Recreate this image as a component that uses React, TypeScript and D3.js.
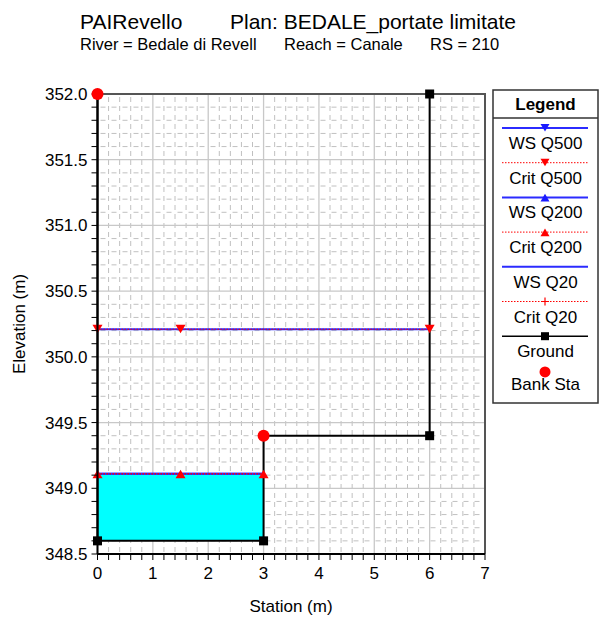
import React from "react";
import * as d3 from "d3";

// Cross-section geometry
const groundStation = [0, 0, 3, 3, 6, 6];
const groundElev = [352.0, 348.6, 348.6, 349.4, 349.4, 352.0];
const groundMarkerIdx = [1, 2, 4, 5];

const bankStation = [0, 3];
const bankElev = [352.0, 349.4];

// Water surfaces per profile
const wsQ500Station = [0, 1.5, 6];
const wsQ500Elev = 350.21;
const critQ500Elev = 350.21;
const wsQ200Station = [0, 1.5, 3];
const wsQ200Elev = 349.11;
const critQ200Elev = 349.11;
const wsQ20Station = [0, 1.5, 3];
const wsQ20Elev = 349.11;
const critQ20Elev = 349.11;

const xTicks = [0, 1, 2, 3, 4, 5, 6, 7];
const yTicks = [348.5, 349.0, 349.5, 350.0, 350.5, 351.0, 351.5, 352.0];

const legendItems = [
  "WS Q500",
  "Crit Q500",
  "WS Q200",
  "Crit Q200",
  "WS Q20",
  "Crit Q20",
  "Ground",
  "Bank Sta",
];

const W = 602;
const H = 620;
const FONT = "'Liberation Sans', Arial, sans-serif";
const BLUE = "#2b2bff";
const RED = "#ff0000";

const x = d3.scaleLinear().domain([0, 7]).range([97.5, 485]);
const y = d3.scaleLinear().domain([348.5, 352]).range([554, 94]);

const tri = (cx: number, cy: number, down: boolean, s = 5) =>
  down
    ? `M${cx - s},${cy - s * 0.9}L${cx + s},${cy - s * 0.9}L${cx},${cy + s * 0.8}Z`
    : `M${cx - s},${cy + s * 0.9}L${cx + s},${cy + s * 0.9}L${cx},${cy - s * 0.8}Z`;

export default function App() {
  const line = d3
    .line<[number, number]>()
    .x((d) => x(d[0]))
    .y((d) => y(d[1]));

  const groundPts: [number, number][] = groundStation.map((s, i) => [s, groundElev[i]]);

  const minorX = d3.range(0, 7.0001, 0.2).filter((v) => Math.abs(v - Math.round(v)) > 1e-6);
  const minorY = d3
    .range(348.5, 352.0001, 0.1)
    .filter((v) => Math.abs(v * 2 - Math.round(v * 2)) > 1e-6);
  const xMinorTicks = d3.range(0, 7.0001, 0.2);
  const yMinorTicks = d3.range(348.5, 352.0001, 0.1);

  // Wetted area under WS Q200 within the channel bottom
  const fillArea = d3
    .area<number>()
    .x((s) => x(s))
    .y0(y(groundElev[1]))
    .y1(y(wsQ200Elev));

  const legX0 = 493;
  const legX1 = 598;
  const legLineX0 = 502;
  const legLineX1 = 588;
  const legMid = 545;
  const rowY = (i: number) => 128 + i * 34.7;

  return (
    <svg
      width={W}
      height={H}
      style={{ position: "absolute", left: 0, top: 0, background: "#fff" }}
      fontFamily={FONT}
    >
      {/* Titles */}
      <text x={80} y={29} fontSize={21} fill="#000">
        PAIRevello
      </text>
      <text x={230} y={29} fontSize={21} fill="#000">
        Plan: BEDALE_portate limitate
      </text>
      <text x={80} y={50} fontSize={16.5} fill="#000">
        River = Bedale di Revell
      </text>
      <text x={284} y={50} fontSize={16.5} fill="#000">
        Reach = Canale
      </text>
      <text x={430} y={50} fontSize={16.5} fill="#000">
        RS = 210
      </text>

      {/* Grid */}
      <g>
        {minorX.map((v) => (
          <line
            key={"mx" + v}
            x1={x(v)}
            x2={x(v)}
            y1={y(352)}
            y2={y(348.5)}
            stroke="#c0c0c0"
            strokeWidth={1}
            strokeDasharray="5,4"
            strokeDashoffset={-3}
          />
        ))}
        {minorY.map((v) => (
          <line
            key={"my" + v}
            x1={x(0)}
            x2={x(7)}
            y1={y(v)}
            y2={y(v)}
            stroke="#c0c0c0"
            strokeWidth={1}
            strokeDasharray="5,6"
            strokeDashoffset={-3}
          />
        ))}
        {xTicks.map((v) => (
          <line
            key={"gx" + v}
            x1={x(v)}
            x2={x(v)}
            y1={y(352)}
            y2={y(348.5)}
            stroke="#c8c8c8"
            strokeWidth={1.3}
          />
        ))}
        {yTicks.map((v) => (
          <line
            key={"gy" + v}
            x1={x(0)}
            x2={x(7)}
            y1={y(v)}
            y2={y(v)}
            stroke="#c8c8c8"
            strokeWidth={1.3}
          />
        ))}
      </g>

      {/* Frame top/right */}
      <path
        d={`M${x(0)},${y(352)}H${x(7)}V${y(348.5)}`}
        fill="none"
        stroke="#555"
        strokeWidth={2}
      />

      {/* Water fill */}
      <path d={fillArea([0, 3]) || ""} fill="#00ffff" />

      {/* Water surfaces */}
      <path
        d={line(wsQ20Station.map((s) => [s, wsQ20Elev]) as [number, number][]) || ""}
        fill="none"
        stroke={BLUE}
        strokeWidth={2}
      />
      <path
        d={line(wsQ200Station.map((s) => [s, wsQ200Elev]) as [number, number][]) || ""}
        fill="none"
        stroke={BLUE}
        strokeWidth={2}
      />
      <path
        d={line(wsQ500Station.map((s) => [s, wsQ500Elev]) as [number, number][]) || ""}
        fill="none"
        stroke={BLUE}
        strokeWidth={2}
      />
      <path
        d={line(wsQ500Station.map((s) => [s, critQ500Elev]) as [number, number][]) || ""}
        fill="none"
        stroke={RED}
        strokeWidth={1}
        strokeDasharray="1.5,1.5"
      />
      <path
        d={line(wsQ200Station.map((s) => [s, critQ200Elev]) as [number, number][]) || ""}
        fill="none"
        stroke={RED}
        strokeWidth={1}
        strokeDasharray="1.5,1.5"
      />
      <path
        d={line(wsQ20Station.map((s) => [s, critQ20Elev]) as [number, number][]) || ""}
        fill="none"
        stroke={RED}
        strokeWidth={1}
        strokeDasharray="1.5,1.5"
      />

      {/* Ground */}
      <path d={line(groundPts) || ""} fill="none" stroke="#000" strokeWidth={2} />

      {/* Profile markers */}
      {wsQ500Station.map((s) => (
        <path key={"m500" + s} d={tri(x(s), y(critQ500Elev), true)} fill={RED} />
      ))}
      {wsQ200Station.map((s) => (
        <path key={"m200" + s} d={tri(x(s), y(critQ200Elev), false)} fill={RED} />
      ))}
      {groundMarkerIdx.map((i) => (
        <rect
          key={"g" + i}
          x={x(groundStation[i]) - 4.5}
          y={y(groundElev[i]) - 4.5}
          width={9}
          height={9}
          fill="#000"
        />
      ))}

      {/* Axes */}
      <line x1={x(0)} x2={x(0)} y1={y(352)} y2={y(348.5)} stroke="#000" strokeWidth={2} />
      <line x1={x(0)} x2={x(7)} y1={y(348.5)} y2={y(348.5)} stroke="#000" strokeWidth={2} />
      {yMinorTicks.map((v) => (
        <line key={"yt" + v} x1={x(0) - 6} x2={x(0)} y1={y(v)} y2={y(v)} stroke="#000" strokeWidth={1} />
      ))}
      {xMinorTicks.map((v) => (
        <line key={"xt" + v} x1={x(v)} x2={x(v)} y1={y(348.5)} y2={y(348.5) + 6} stroke="#000" strokeWidth={1} />
      ))}
      {yTicks.map((v) => (
        <text
          key={"yl" + v}
          x={x(0) - 10}
          y={y(v) + 6}
          fontSize={17}
          textAnchor="end"
          fill="#000"
        >
          {v.toFixed(1)}
        </text>
      ))}
      {xTicks.map((v) => (
        <text key={"xl" + v} x={x(v)} y={y(348.5) + 25} fontSize={17} textAnchor="middle" fill="#000">
          {v}
        </text>
      ))}
      <text x={291} y={612} fontSize={17} textAnchor="middle" fill="#000">
        Station (m)
      </text>
      <text
        transform={`translate(25,${(y(352) + y(348.5)) / 2}) rotate(-90)`}
        fontSize={17}
        textAnchor="middle"
        fill="#000"
      >
        Elevation (m)
      </text>

      {/* Bank stations */}
      {bankStation.map((s, i) => (
        <circle key={"b" + i} cx={x(s)} cy={y(bankElev[i])} r={6} fill={RED} />
      ))}

      {/* Legend */}
      <rect x={legX0} y={90} width={legX1 - legX0} height={313} fill="#fff" stroke="#333" strokeWidth={1.5} />
      <line x1={legX0} x2={legX1} y1={118} y2={118} stroke="#333" strokeWidth={1.5} />
      <text x={(legX0 + legX1) / 2} y={110} fontSize={17} fontWeight="bold" textAnchor="middle">
        Legend
      </text>
      {legendItems.map((label, i) => {
        const ly = rowY(i);
        const isWS = label.startsWith("WS");
        const isCrit = label.startsWith("Crit");
        return (
          <g key={label}>
            {isWS && <line x1={legLineX0} x2={legLineX1} y1={ly} y2={ly} stroke={BLUE} strokeWidth={2} />}
            {isCrit && (
              <line
                x1={legLineX0}
                x2={legLineX1}
                y1={ly}
                y2={ly}
                stroke={RED}
                strokeWidth={1}
                strokeDasharray="1.5,1.5"
              />
            )}
            {label === "Ground" && (
              <g>
                <line x1={legLineX0} x2={legLineX1} y1={ly} y2={ly} stroke="#000" strokeWidth={1.5} />
                <rect x={legMid - 4} y={ly - 4} width={8} height={8} fill="#000" />
              </g>
            )}
            {label === "Bank Sta" && <circle cx={legMid} cy={ly + 1} r={5.5} fill={RED} />}
            {(label === "WS Q500" || label === "Crit Q500") && (
              <path d={tri(legMid, ly, true, 4.5)} fill={label === "WS Q500" ? "#1a1aff" : RED} />
            )}
            {(label === "WS Q200" || label === "Crit Q200") && (
              <path d={tri(legMid, ly, false, 4.5)} fill={label === "WS Q200" ? "#1a1aff" : RED} />
            )}
            {label === "Crit Q20" && (
              <path d={`M${legMid - 4},${ly}H${legMid + 4}M${legMid},${ly - 4}V${ly + 4}`} stroke={RED} strokeWidth={1.2} />
            )}
            <text
              x={(legX0 + legX1) / 2}
              y={ly + (label === "Bank Sta" ? 19 : 21)}
              fontSize={17}
              textAnchor="middle"
              fill="#000"
            >
              {label}
            </text>
          </g>
        );
      })}
    </svg>
  );
}
